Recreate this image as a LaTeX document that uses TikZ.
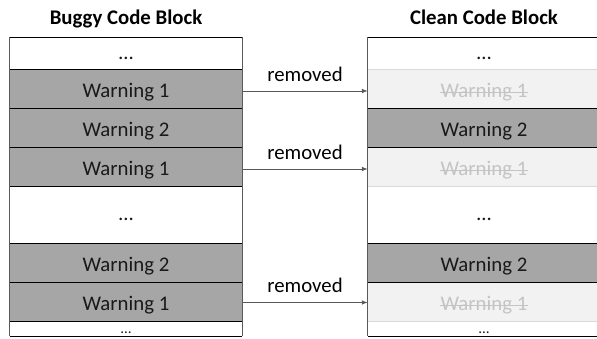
\documentclass[tikz,border=0pt]{standalone}
\usepackage{fontspec}
\setmainfont{Carlito}
\usetikzlibrary{arrows.meta}
\definecolor{darkcell}{HTML}{A6A6A6}
\definecolor{lightcell}{HTML}{F2F2F2}
\definecolor{ghost}{HTML}{C4C4C4}
\definecolor{sepgray}{HTML}{D9D9D9}
\definecolor{edgegray}{HTML}{595959}
\definecolor{arrowgray}{HTML}{595959}
\begin{document}
\begin{tikzpicture}[x=1pt,y=-1pt,
  cell/.style={rectangle, inner sep=0pt, minimum width=232pt, font=\fontsize{20.8}{24}\selectfont, text=black!90, text height=16pt, text depth=0pt},
  darkrow/.style={cell, fill=darkcell},
  whiterow/.style={cell, fill=white, text height=11pt},
  ghostrow/.style={cell, fill=lightcell},
  ghosttext/.style={inner sep=0pt, font=\fontsize{20.8}{24}\selectfont, text=ghost, text height=16pt, text depth=0pt},
  strike/.style={draw=ghost, line width=1pt},
  title/.style={font=\fontsize{20.8}{24}\selectfont\bfseries, text=black, anchor=base, inner sep=0pt},
  hard/.style={draw=black, line width=0.9pt},
  soft/.style={draw=sepgray, line width=0.9pt},
  side/.style={draw=edgegray, line width=0.9pt},
  arrowline/.style={draw=arrowgray, line width=0.7pt, -{Latex[length=6pt,width=4.5pt]}},
  lbl/.style={font=\fontsize{20.8}{24}\selectfont, text=black, inner sep=0pt}
]
\useasboundingbox (0,0) rectangle (597,339);

% titles
\node[title] (tl) at (126,24.5) {Buggy Code Block};
\node[title] (tr) at (484,24.5) {Clean Code Block};

% left block
\node[whiterow, minimum height=32.5pt] (l1) at (126,53.75) {\dots};
\node[darkrow, minimum height=39pt] (l2) at (126,89.5) {Warning 1};
\node[darkrow, minimum height=39pt] (l3) at (126,128.5) {Warning 2};
\node[darkrow, minimum height=39pt] (l4) at (126,167.5) {Warning 1};
\node[whiterow, minimum height=57pt] (l5) at (126,215.5) {\dots};
\node[darkrow, minimum height=39pt] (l6) at (126,263.5) {Warning 2};
\node[darkrow, minimum height=39pt] (l7) at (126,302.5) {Warning 1};
\node[whiterow, minimum height=14pt, font=\fontsize{15}{15}\selectfont, text height=8pt] (l8) at (126,329) {\dots};

% right block
\node[whiterow, minimum height=32.5pt] (r1) at (484,53.75) {\dots};
\node[ghostrow, minimum height=39pt] (r2) at (484,89.5) {};
\node[darkrow, minimum height=39pt] (r3) at (484,128.5) {Warning 2};
\node[ghostrow, minimum height=39pt] (r4) at (484,167.5) {};
\node[whiterow, minimum height=57pt] (r5) at (484,215.5) {\dots};
\node[darkrow, minimum height=39pt] (r6) at (484,263.5) {Warning 2};
\node[ghostrow, minimum height=39pt] (r7) at (484,302.5) {};
\node[whiterow, minimum height=14pt, font=\fontsize{15}{15}\selectfont, text height=8pt] (r8) at (484,329) {\dots};

% struck-out warnings
\foreach \r/\g in {r2/g2, r4/g4, r7/g7} {
  \node[ghosttext] (\g) at (\r) {Warning 1};
  \draw[strike] ([yshift=5pt]\g.base west) -- ([yshift=5pt]\g.base east);
}

% left block borders
\foreach \n in {l1,l2,l3,l4,l5,l6,l7,l8} \draw[hard] (\n.north west) -- (\n.north east);
\draw[hard] (l8.south west) -- (l8.south east);
\draw[side] (l1.north west) -- (l8.south west);
\draw[side] (l1.north east) -- (l8.south east);

% right block borders
\draw[hard] (r1.north west) -- (r1.north east);
\draw[soft] (r2.north west) -- (r2.north east);
\draw[hard] (r3.north west) -- (r3.north east);
\draw[hard] (r4.north west) -- (r4.north east);
\draw[soft] (r5.north west) -- (r5.north east);
\draw[hard] (r6.north west) -- (r6.north east);
\draw[hard] (r7.north west) -- (r7.north east);
\draw[soft] (r8.north west) -- (r8.north east);
\draw[hard] (r8.south west) -- (r8.south east);
\draw[side] (r1.north west) -- (r8.south west);
\draw[side] (r1.north east) -- (r8.south east);

% arrows
\draw[arrowline] ([yshift=-1.5pt]l2.east) -- node[lbl, above=9.5pt] (a1) {removed} ([yshift=-1.5pt]r2.west);
\draw[arrowline] ([yshift=-1.5pt]l4.east) -- node[lbl, above=9.5pt] (a2) {removed} ([yshift=-1.5pt]r4.west);
\draw[arrowline] (l7.east) -- node[lbl, above=9.5pt] (a3) {removed} (r7.west);
\end{tikzpicture}
\end{document}
